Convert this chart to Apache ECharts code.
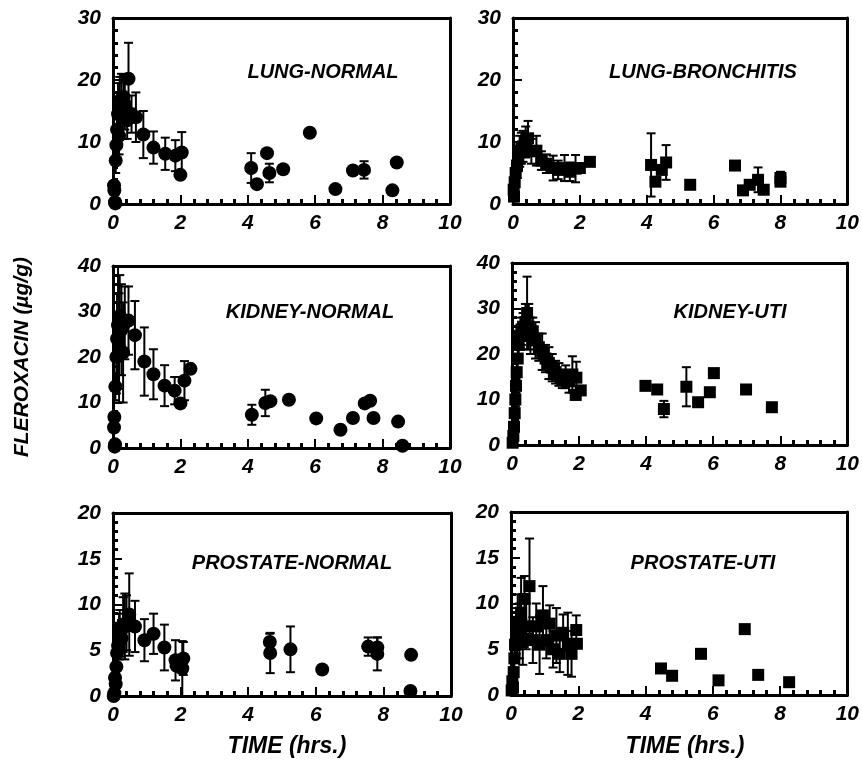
<!DOCTYPE html>
<html>
<head>
<meta charset="utf-8">
<script src="https://cdn.jsdelivr.net/npm/echarts@6/dist/echarts.min.js"></script>
<style>html,body{margin:0;padding:0;background:#fff}#c{width:862px;height:761px}</style>
</head>
<body>
<div id="c"></div>
<script>
// ---------- DATA (time in hrs, concentration in µg/g, error half-width; 0 = no bar) ----------
const panelTitles = ['LUNG-NORMAL','LUNG-BRONCHITIS','KIDNEY-NORMAL','KIDNEY-UTI','PROSTATE-NORMAL','PROSTATE-UTI'];
const xTicks = [0,2,4,6,8,10];
const yMaxes = [30,30,40,40,20,20];
const yIntervals = [10,10,10,10,5,5];

const lungNormalT = [0.03,0.04,0.06,0.07,0.08,0.10,0.12,0.15,0.18,0.20,0.25,0.29,0.31,0.35,0.42,0.46,0.55,0.68,0.90,1.20,1.55,1.85,2.04,2.00,4.10,4.27,4.57,4.64,5.05,5.84,6.60,7.12,7.45,8.29,8.42];
const lungNormalV = [3.0,2.2,0.3,0.1,7.0,9.5,12.0,14.5,11.0,15.5,17.0,14.0,17.3,16.0,13.5,20.2,14.5,14.0,11.2,9.1,8.1,7.8,8.3,4.7,5.8,3.2,8.2,5.0,5.6,11.5,2.4,5.4,5.5,2.2,6.7];
const lungNormalE = [0,0,1.2,0,2.0,3.0,4.5,5.0,3.0,5.0,4.0,3.5,3.5,4.0,3.0,5.8,3.0,4.0,3.8,2.6,2.6,2.5,3.3,0,2.4,0,0,1.5,0,0,0,0,1.4,0,0];

const lungBronchT = [0.02,0.03,0.05,0.08,0.12,0.16,0.20,0.25,0.30,0.38,0.45,0.55,0.70,0.85,1.00,1.20,1.35,1.54,1.70,1.87,2.00,2.30,4.13,4.26,4.45,4.58,5.30,6.64,6.88,7.08,7.33,7.50,8.00,8.00];
const lungBronchV = [2.3,1.2,3.5,5.0,6.2,7.3,8.5,9.0,9.3,10.0,10.6,8.5,8.6,7.0,6.5,5.8,5.5,5.8,5.2,5.7,5.8,6.8,6.3,3.6,5.5,6.7,3.1,6.2,2.2,3.1,3.9,2.3,4.2,3.6];
const lungBronchE = [0,0.8,1.0,1.5,2.0,2.0,2.5,2.5,2.5,2.5,2.8,2.0,2.4,1.5,1.5,2.0,1.5,2.1,1.5,2.2,0,0,5.1,0,0,2.8,0,0,0,0,2.0,0,1.0,0];

const kidneyNormalT = [0.03,0.04,0.05,0.06,0.07,0.10,0.12,0.15,0.18,0.20,0.25,0.30,0.35,0.46,0.65,0.93,1.20,1.53,1.83,2.00,2.12,2.30,4.12,4.52,4.67,5.22,6.03,6.75,7.12,7.47,7.63,7.73,8.46,8.59];
const kidneyNormalV = [4.5,6.8,0.3,0.8,13.5,20.0,24.0,27.0,22.0,29.0,26.0,21.0,27.5,28.0,24.8,19.0,16.2,13.7,12.6,9.8,14.8,17.4,7.3,9.9,10.3,10.6,6.5,4.0,6.6,9.8,10.4,6.6,5.8,0.5];
const kidneyNormalE = [0,0,0,0,3.0,8.0,10.0,14.0,12.0,9.0,10.0,11.0,8.0,7.5,7.5,7.5,5.5,4.5,3.0,0,4.3,0,2.2,2.9,0,0,0,0,0,0,0,0,0,0];

const kidneyUtiT = [0.02,0.04,0.06,0.08,0.10,0.12,0.14,0.17,0.20,0.24,0.28,0.33,0.40,0.45,0.50,0.55,0.62,0.70,0.80,0.90,1.00,1.10,1.20,1.30,1.40,1.50,1.60,1.70,1.80,1.92,1.90,2.05,3.98,4.33,4.53,5.20,5.55,5.90,6.02,6.98,7.75];
const kidneyUtiV = [0.5,2.0,4.0,7.0,10.0,13.0,16.0,19.0,22.0,24.0,25.0,26.0,27.0,29.0,26.0,24.0,25.0,23.0,21.5,20.5,19.0,18.0,17.0,16.0,15.5,14.5,15.0,14.0,15.5,14.8,11.0,12.0,13.0,12.2,7.9,12.8,9.4,11.6,15.8,12.2,8.3];
const kidneyUtiE = [1.5,0,1.0,1.5,1.5,1.5,2.0,2.0,2.5,2.5,3.0,3.0,4.0,8.0,5.0,4.0,3.0,4.0,3.0,4.0,3.0,3.5,3.0,2.5,2.5,2.0,2.5,2.5,4.0,3.5,0,0,0,0,1.8,4.3,0,0,0,0,0];

const prostateNormalT = [0.02,0.04,0.06,0.08,0.10,0.12,0.15,0.18,0.20,0.25,0.30,0.35,0.40,0.48,0.65,0.93,1.20,1.52,1.85,1.88,2.08,2.05,4.64,4.65,5.25,6.19,7.55,7.82,7.82,8.82,8.80];
const prostateNormalV = [0.0,0.3,2.0,1.3,3.2,4.7,5.5,6.5,7.2,6.3,7.8,7.6,8.0,8.9,7.6,6.1,6.8,5.3,3.9,3.3,4.1,3.0,5.9,4.7,5.1,2.9,5.4,5.3,4.6,4.5,0.55];
const prostateNormalE = [0,0,0.5,0,1.0,1.5,2.5,2.5,2.2,2.0,3.0,3.6,3.0,4.5,2.8,2.3,2.2,2.5,2.2,0,1.8,3.0,0.9,2.2,2.5,0,1.0,1.1,1.8,0,0];

const prostateUtiT = [0.02,0.04,0.06,0.08,0.10,0.12,0.15,0.18,0.20,0.25,0.30,0.35,0.40,0.45,0.55,0.65,0.75,0.85,0.95,1.05,1.15,1.25,1.35,1.45,1.55,1.69,1.80,1.94,1.96,4.46,4.79,5.65,6.17,6.95,7.35,8.27];
const prostateUtiV = [0.5,1.5,0.8,2.5,4.0,5.5,7.0,6.0,8.0,7.0,9.0,5.8,10.5,7.5,11.9,6.0,7.5,5.5,8.7,6.0,7.8,5.0,6.5,4.5,6.8,5.6,4.5,7.1,5.6,2.9,2.1,4.5,1.6,7.2,2.2,1.4];
const prostateUtiE = [0,0.5,0,1.0,1.5,2.0,2.5,2.0,3.0,3.0,3.8,2.5,2.5,2.5,5.2,2.5,2.5,3.2,3.2,2.0,2.0,2.0,3.0,2.0,2.0,3.4,2.5,1.6,0,0,0,0,0,0,0,0];

const seriesT = [lungNormalT, lungBronchT, kidneyNormalT, kidneyUtiT, prostateNormalT, prostateUtiT];
const seriesV = [lungNormalV, lungBronchV, kidneyNormalV, kidneyUtiV, prostateNormalV, prostateUtiV];
const seriesE = [lungNormalE, lungBronchE, kidneyNormalE, kidneyUtiE, prostateNormalE, prostateUtiE];

// ---------- LAYOUT ----------
const FONT = '"Liberation Sans", Arial, Helvetica, sans-serif';
const gridBoxes = [
  {left:113, top:18,  width:337, height:186},
  {left:513, top:18,  width:338, height:186},
  {left:113, top:266, width:337, height:182},
  {left:512, top:263, width:338, height:182},
  {left:113, top:513, width:338, height:183},
  {left:511, top:512, width:339, height:183}
];
const titlePos = [[323,72],[703,72],[310,312],[730,312],[292,563],[703,563]];
const symbols = ['circle','rect','circle','rect','circle','rect'];
const symSizes = [14,12,14,12,14,12];

function labelStyle(margin) {
  return {margin:margin, fontFamily:FONT, fontWeight:'bold', fontStyle:'italic', fontSize:21, color:'#000'};
}
function frameLine() { return {show:true, onZero:false, lineStyle:{color:'#000', width:3}}; }

const grids = [], xAxes = [], yAxes = [], series = [], graphics = [];
for (let i = 0; i < 6; i++) {
  grids.push(Object.assign({show:false}, gridBoxes[i]));
  xAxes.push({
    type:'value', gridIndex:i, position:'bottom', min:xTicks[0], max:xTicks[xTicks.length-1], interval:xTicks[1]-xTicks[0],
    axisLine:frameLine(),
    axisTick:{show:true, inside:true, length:9, lineStyle:{color:'#000', width:2}},
    minorTick:{show:true, splitNumber:5, length:5, lineStyle:{color:'#000', width:3}},
    splitLine:{show:false},
    axisLabel:labelStyle(9)
  });
  xAxes.push({
    type:'value', gridIndex:i, position:'top', min:xTicks[0], max:xTicks[xTicks.length-1], interval:xTicks[1]-xTicks[0],
    axisLine:frameLine(), axisTick:{show:false}, minorTick:{show:false}, axisLabel:{show:false}, splitLine:{show:false}
  });
  yAxes.push({
    type:'value', gridIndex:i, position:'left', min:0, max:yMaxes[i], interval:yIntervals[i],
    axisLine:frameLine(),
    axisTick:{show:true, inside:true, length:9, lineStyle:{color:'#000', width:2}},
    minorTick:{show:true, splitNumber:5, length:5, lineStyle:{color:'#000', width:3}},
    splitLine:{show:false},
    axisLabel:labelStyle(12)
  });
  yAxes.push({
    type:'value', gridIndex:i, position:'right', min:0, max:yMaxes[i], interval:yIntervals[i],
    axisLine:frameLine(), axisTick:{show:false}, minorTick:{show:false}, axisLabel:{show:false}, splitLine:{show:false}
  });
  const pts = [], bars = [];
  for (let k = 0; k < seriesT[i].length; k++) {
    pts.push([seriesT[i][k], seriesV[i][k]]);
    if (seriesE[i][k] > 0) bars.push([seriesT[i][k], seriesV[i][k]-seriesE[i][k], seriesV[i][k]+seriesE[i][k]]);
  }
  series.push({
    type:'custom', xAxisIndex:2*i, yAxisIndex:2*i, clip:true, z:2,
    encode:{x:0, y:[1,2]},
    renderItem:function(params, api){
      const x = api.value(0);
      const p1 = api.coord([x, api.value(2)]);
      const p2 = api.coord([x, api.value(1)]);
      const w = 4.5, st = {stroke:'#000', lineWidth:2};
      return {type:'group', children:[
        {type:'line', shape:{x1:p1[0], y1:p1[1], x2:p2[0], y2:p2[1]}, style:st},
        {type:'line', shape:{x1:p1[0]-w, y1:p1[1], x2:p1[0]+w, y2:p1[1]}, style:st},
        {type:'line', shape:{x1:p2[0]-w, y1:p2[1], x2:p2[0]+w, y2:p2[1]}, style:st}
      ]};
    },
    data:bars
  });
  series.push({
    type:'scatter', xAxisIndex:2*i, yAxisIndex:2*i, symbol:symbols[i], symbolSize:symSizes[i],
    itemStyle:{color:'#000', opacity:1}, z:3, clip:false, data:pts
  });
  graphics.push({type:'text', x:titlePos[i][0], y:titlePos[i][1], style:{
    text:panelTitles[i], align:'center', verticalAlign:'middle',
    font:'italic bold 20px ' + FONT, fill:'#000'}});
}
graphics.push({type:'text', x:22, y:357, rotation:Math.PI/2, style:{
  text:'FLEROXACIN (µg/g)', align:'center', verticalAlign:'middle', font:'italic bold 21px ' + FONT, fill:'#000'}});
graphics.push({type:'text', x:287, y:747, style:{
  text:'TIME (hrs.)', align:'center', verticalAlign:'middle', font:'italic bold 23px ' + FONT, fill:'#000'}});
graphics.push({type:'text', x:685, y:747, style:{
  text:'TIME (hrs.)', align:'center', verticalAlign:'middle', font:'italic bold 23px ' + FONT, fill:'#000'}});

const chart = echarts.init(document.getElementById('c'), null, {renderer:'canvas'});
chart.setOption({
  animation:false,
  backgroundColor:'#fff',
  grid:grids, xAxis:xAxes, yAxis:yAxes, series:series, graphic:graphics
});
</script>
</body>
</html>
